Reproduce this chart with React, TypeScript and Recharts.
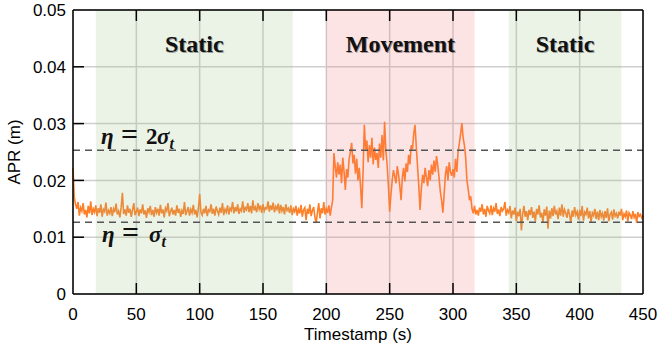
import React from "react";
import { LineChart, Line, XAxis, YAxis, CartesianGrid, ReferenceArea, ReferenceLine } from "recharts";

// APR readings, one per second, in units of 1e-4 m
const apr0to199 = [
  222, 170, 158, 150, 162, 138, 152, 146, 160, 140,
  148, 135, 155, 142, 163, 139, 150, 144, 156, 137,
  151, 143, 158, 136, 149, 145, 161, 138, 147, 142,
  153, 137, 150, 144, 159, 140, 146, 135, 152, 178,
  141, 149, 138, 156, 143, 150, 136, 148, 160, 139,
  145, 152, 137, 149, 142, 158, 140, 147, 134, 151,
  144, 155, 139, 148, 136, 153, 143, 150, 138, 157,
  142, 149, 135, 151, 146, 160, 137, 145, 152, 140,
  148, 138, 156, 143, 150, 136, 147, 141, 162, 139,
  146, 153, 138, 149, 143, 157, 140, 148, 135, 151,
  176, 144, 139, 150, 142, 155, 137, 148, 145, 158,
  141, 150, 138, 154, 146, 140, 152, 143, 160, 139,
  149, 144, 156, 140, 151, 147, 162, 142, 153, 145,
  158, 141, 150, 146, 163, 143, 152, 148, 160, 144,
  155, 142, 165, 147, 153, 144, 160, 149, 156, 143,
  158, 146, 152, 150, 163, 145, 156, 148, 161, 144,
  154, 149, 159, 142, 157, 146, 153, 140, 158, 147,
  151, 143, 156, 139, 150, 145, 155, 138, 149, 142,
  157, 136, 148, 152, 130, 150, 141, 158, 137, 147,
  153, 135, 125, 144, 160, 133, 151, 142, 162, 140,
];

const apr200to319 = [
  150, 143, 156, 138, 152, 165, 248, 225, 205, 232,
  210, 228, 195, 240, 215, 183, 220, 205, 238, 250,
  266, 230, 245, 212, 238, 200, 222, 190, 151, 215,
  298, 255, 270, 232, 262, 240, 275, 228, 258, 236,
  248, 222, 265, 240, 280, 235, 303, 252, 228, 190,
  145, 175, 200, 218, 207, 195, 225, 210, 190, 165,
  205, 222, 198, 230, 215, 245, 228, 262, 255, 282,
  298, 260, 225, 190, 148, 185, 210, 195, 222, 205,
  190, 218, 200, 228, 210, 235, 215, 243, 225, 205,
  180, 165, 143, 175, 210, 225, 200, 232, 215, 208,
  220, 205, 238, 215, 250, 265, 282, 301, 275, 262,
  240, 200, 185, 165, 172, 150, 142, 155, 140, 148,
];

const apr320to450 = [
  138, 152, 145, 158, 140, 150, 136, 155, 147, 142,
  156, 139, 151, 145, 160, 141, 149, 137, 153, 146,
  150, 162, 138, 148, 143, 155, 133, 147, 140, 152,
  128, 145, 137, 150, 112, 141, 155, 136, 146, 130,
  148, 139, 153, 134, 145, 128, 150, 140, 156, 135,
  143, 125, 149, 138, 154, 115, 147, 133, 151, 137,
  155, 140, 146, 132, 152, 138, 158, 136, 149, 143,
  134, 150, 140, 125, 147, 136, 153, 139, 145, 131,
  148, 137, 155, 129, 144, 140, 152, 133, 146, 127,
  143, 138, 150, 132, 145, 130, 148, 136, 142, 129,
  146, 134, 151, 128, 140, 144, 131, 149, 137, 142,
  133, 145, 138, 150, 130, 141, 136, 147, 128, 143,
  139, 132, 146, 135, 141, 125, 144, 137, 140, 134,
  138,
];

const xTicks = [0, 50, 100, 150, 200, 250, 300, 350, 400, 450];
const yTicks = [0, 0.01, 0.02, 0.03, 0.04, 0.05];

const phaseNames = ["Static", "Movement", "Static"];
const phaseStart = [18, 200, 344];
const phaseEnd = [173.5, 317, 433];
const phaseColors = ["#9bbe82", "#f57878", "#9bbe82"];

const sigma = 0.01265;

const data = [...apr0to199, ...apr200to319, ...apr320to450].map((v, i) => ({ t: i, apr: v / 10000 }));

const sans = "'Liberation Sans', Arial, Helvetica, sans-serif";
const serif = "'Liberation Serif', 'Times New Roman', 'DejaVu Serif', serif";
const TICK = 11;

function BottomTick({ x, y, payload }: any) {
  const axisY = y - 14;
  return (
    <g>
      {x > 74 && x < 642 && (
        <line x1={x} x2={x} y1={axisY} y2={axisY - TICK} stroke="#000" strokeWidth={1.5} />
      )}
      <text x={x} y={y} dy="0.71em" textAnchor="middle" fontFamily={sans} fontSize={17} fill="#000">
        {payload.value}
      </text>
    </g>
  );
}

function TopTick({ x, y }: any) {
  if (x < 74 || x > 642) return <g />;
  return <line x1={x} x2={x} y1={y} y2={y + TICK} stroke="#000" strokeWidth={1.5} />;
}

function LeftTick({ x, y, payload }: any) {
  const axisX = x + 7;
  const v = payload.value;
  return (
    <g>
      {y > 11 && y < 293 && (
        <line x1={axisX} x2={axisX + TICK} y1={y} y2={y} stroke="#000" strokeWidth={1.5} />
      )}
      <text x={x} y={y} dy="0.36em" textAnchor="end" fontFamily={sans} fontSize={17} fill="#000">
        {v === 0 ? "0" : v.toFixed(2)}
      </text>
    </g>
  );
}

function RightTick({ x, y }: any) {
  if (y < 11 || y > 293) return <g />;
  return <line x1={x} x2={x - TICK} y1={y} y2={y} stroke="#000" strokeWidth={1.5} />;
}

function PhaseLabel({ viewBox, text }: any) {
  const cx = viewBox.x + viewBox.width / 2;
  return (
    <g fontFamily={serif} fontSize={24} fontWeight="bold" textAnchor="middle">
      <text x={cx + 1} y={53} fill="#000" fillOpacity={0.35}>{text}</text>
      <text x={cx} y={52} fill="#111">{text}</text>
    </g>
  );
}

function EtaLabel({ viewBox, two }: any) {
  const base = two ? viewBox.y - 6 : viewBox.y + 20;
  const x0 = two ? 101 : 102;
  return (
    <text y={base} fontFamily={serif} fontSize={23} fontWeight="bold" fill="#111">
      <tspan x={x0} fontStyle="italic">η</tspan>
      <tspan x={x0 + 20} fontSize={30}>=</tspan>
      {two && <tspan x={x0 + 45}>2</tspan>}
      <tspan x={two ? x0 + 56 : x0 + 47} fontStyle="italic">σ</tspan>
      <tspan dy={5} fontSize={16} fontStyle="italic">t</tspan>
    </text>
  );
}

export default function App() {
  return (
    <div style={{ position: "absolute", left: 0, top: 0 }}>
      <LineChart width={660} height={350} data={data} margin={{ top: 9, right: 16, bottom: 0, left: 0 }}>
        <CartesianGrid stroke="#cfcfcf" strokeWidth={1.5} />
        <Line
          type="linear"
          dataKey="apr"
          stroke="#ff7f27"
          strokeWidth={1.6}
          dot={false}
          isAnimationActive={false}
        />
        {phaseNames.map((name, i) => (
          <ReferenceArea
            key={i}
            x1={phaseStart[i]}
            x2={phaseEnd[i]}
            y1={0}
            y2={0.05}
            fill={phaseColors[i]}
            fillOpacity={0.2}
            stroke="none"
            zIndex={450}
            label={{ content: (p: any) => <PhaseLabel {...p} text={name} /> }}
          />
        ))}
        <ReferenceLine
          y={2 * sigma}
          stroke="#555"
          strokeWidth={1.5}
          strokeDasharray="7 5"
          zIndex={470}
          label={{ content: (p: any) => <EtaLabel {...p} two /> }}
        />
        <ReferenceLine
          y={sigma}
          stroke="#555"
          strokeWidth={1.5}
          strokeDasharray="7 5"
          zIndex={470}
          label={{ content: (p: any) => <EtaLabel {...p} two={false} /> }}
        />
        <XAxis
          dataKey="t"
          type="number"
          domain={[0, 450]}
          ticks={xTicks}
          height={56}
          tickSize={0}
          tickMargin={14}
          tickLine={false}
          axisLine={{ stroke: "#000", strokeWidth: 1.5 }}
          tick={BottomTick}
          interval={0}
          label={{
            content: () => (
              <text x={358} y={340} textAnchor="middle" fontFamily={sans} fontSize={17} fill="#000">
                Timestamp (s)
              </text>
            ),
          }}
        />
        <XAxis
          xAxisId="top"
          orientation="top"
          dataKey="t"
          type="number"
          domain={[0, 450]}
          ticks={xTicks}
          height={1}
          tickSize={0}
          tickMargin={0}
          tickLine={false}
          axisLine={{ stroke: "#000", strokeWidth: 1.5 }}
          tick={TopTick}
          interval={0}
        />
        <YAxis
          type="number"
          domain={[0, 0.05]}
          ticks={yTicks}
          width={73}
          tickSize={0}
          tickMargin={7}
          tickLine={false}
          axisLine={{ stroke: "#000", strokeWidth: 1.5 }}
          tick={LeftTick}
          interval={0}
          label={{
            content: () => (
              <text
                transform="translate(20,152) rotate(-90)"
                textAnchor="middle"
                fontFamily={sans}
                fontSize={17}
                fill="#000"
              >
                APR (m)
              </text>
            ),
          }}
        />
        <YAxis
          yAxisId="right"
          orientation="right"
          type="number"
          domain={[0, 0.05]}
          ticks={yTicks}
          width={1}
          tickSize={0}
          tickMargin={0}
          tickLine={false}
          axisLine={{ stroke: "#000", strokeWidth: 1.5 }}
          tick={RightTick}
          interval={0}
        />
      </LineChart>
    </div>
  );
}
